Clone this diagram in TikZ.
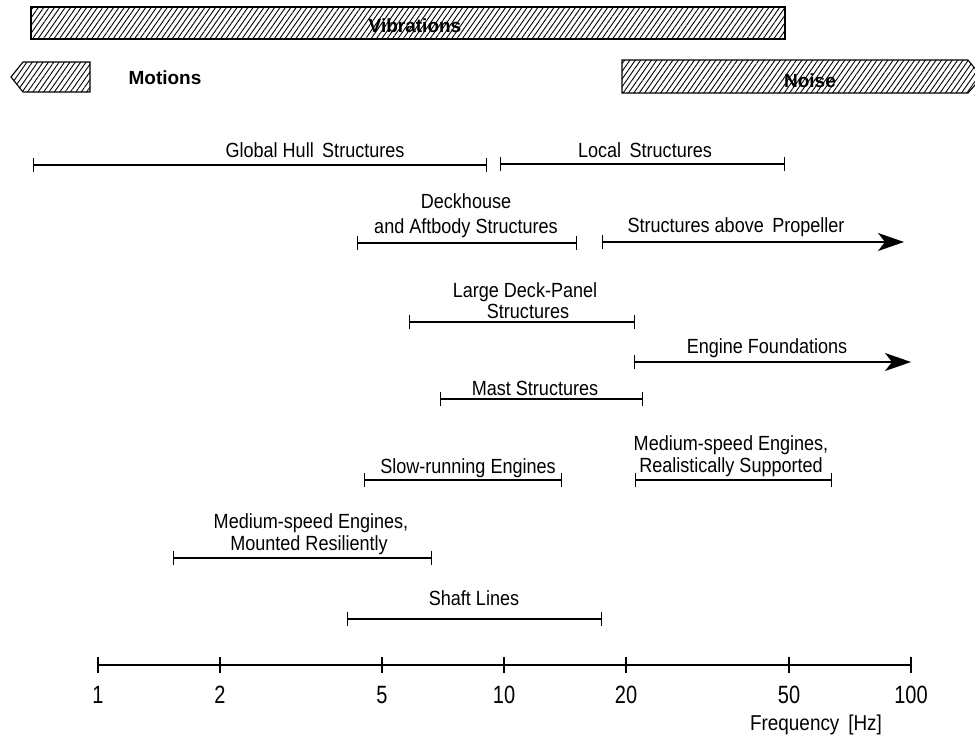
\documentclass[tikz,border=0pt]{standalone}
\usepackage{fontspec}
\setmainfont{Liberation Sans}
\newfontfamily\narrowfont{Liberation Sans}[FakeStretch=0.88]
\newfontfamily\numfont{Liberation Sans}[FakeStretch=0.80]
\usetikzlibrary{arrows.meta,patterns.meta}
\begin{document}
\begin{tikzpicture}[x=1pt,y=-1pt,
  lbl/.style={font=\narrowfont\fontsize{20.5}{24}\selectfont, anchor=base, inner sep=0pt},
  boldlbl/.style={font=\fontsize{19}{22}\selectfont\bfseries, anchor=base, inner sep=0pt},
  numlbl/.style={font=\numfont\fontsize{25}{28}\selectfont, anchor=base, inner sep=0pt},
  spanbar/.style={line width=1.3pt, {Bar[width=14pt]}-{Bar[width=14pt]}},
  spanopen/.style={line width=1.3pt, {Bar[width=14pt]}-{Stealth[length=26pt,width=18pt,inset=7pt]}},
  hatchband/.style={draw=black, line width=1.1pt, pattern={Lines[angle=55,distance=4.4pt,line width=0.9pt]}},
  axline/.style={line width=1.4pt},
]
\useasboundingbox (0,0) rectangle (975,745);
\begin{scope}
\clip (0,0) rectangle (975,745);
% hatched bands
\draw[hatchband] (31,7) rectangle (785,39);
\node[boldlbl] (vib) at (415,32) {Vibrations};
\draw[hatchband] (90,62) -- (23,62) -- (11,77) -- (23,92) -- (90,92) -- cycle;
\node[boldlbl] (mot) at (165,84) {Motions};
\draw[hatchband] (622,60) -- (968,60) -- (982,77) -- (968,93) -- (622,93) -- cycle;
\node[boldlbl] (noise) at (810,87) {Noise};
\end{scope}

% Global hull
\coordinate (gh1) at (33,165); \coordinate (gh2) at (487,165);
\draw[spanbar] (gh1) -- (gh2);
\node[lbl] (ghl) at (315,157) {Global Hull\, Structures};
% Local
\coordinate (ls1) at (500,164); \coordinate (ls2) at (785,164);
\draw[spanbar] (ls1) -- (ls2);
\node[lbl] (lsl) at (645,157) {Local\, Structures};
% Deckhouse
\coordinate (dh1) at (357,243); \coordinate (dh2) at (577,243);
\draw[spanbar] (dh1) -- (dh2);
\node[lbl] (dhl1) at (466,208) {Deckhouse};
\node[lbl] (dhl2) at (466,233) {and Aftbody Structures};
% Structures above propeller
\coordinate (sp1) at (602,242); \coordinate (sp2) at (904,242);
\draw[spanopen] (sp1) -- (sp2);
\node[lbl] (spl) at (736,232) {Structures above\, Propeller};
% Large deck panel
\coordinate (ld1) at (409,322); \coordinate (ld2) at (635,322);
\draw[spanbar] (ld1) -- (ld2);
\node[lbl] (ldl1) at (525,297) {Large Deck-Panel};
\node[lbl] (ldl2) at (528,318) {Structures};
% Engine foundations
\coordinate (ef1) at (634,362); \coordinate (ef2) at (911,362);
\draw[spanopen] (ef1) -- (ef2);
\node[lbl] (efl) at (767,353) {Engine Foundations};
% Mast
\coordinate (ms1) at (440,399); \coordinate (ms2) at (643,399);
\draw[spanbar] (ms1) -- (ms2);
\node[lbl] (msl) at (535,395) {Mast Structures};
% Slow-running engines
\coordinate (sr1) at (364,480); \coordinate (sr2) at (562,480);
\draw[spanbar] (sr1) -- (sr2);
\node[lbl] (srl) at (468,473) {Slow-running Engines};
% Medium-speed realistic
\coordinate (mr1) at (635,480); \coordinate (mr2) at (832,480);
\draw[spanbar] (mr1) -- (mr2);
\node[lbl] (mrl1) at (731,450) {Medium-speed Engines,};
\node[lbl] (mrl2) at (731,472) {Realistically Supported};
% Medium-speed resilient
\coordinate (mm1) at (173,558); \coordinate (mm2) at (432,558);
\draw[spanbar] (mm1) -- (mm2);
\node[lbl] (mml1) at (311,528) {Medium-speed Engines,};
\node[lbl] (mml2) at (309,550) {Mounted Resiliently};
% Shaft lines
\coordinate (sl1) at (347,619); \coordinate (sl2) at (602,619);
\draw[spanbar] (sl1) -- (sl2);
\node[lbl] (sll) at (474,605) {Shaft Lines};

% Axis
\coordinate (a1) at (98,665); \coordinate (a100) at (911,665);
\draw[axline] (a1) -- (a100);
\foreach \xx/\tt/\nm in {98/1/t1, 220/2/t2, 382/5/t5, 504/10/t10, 626/20/t20, 789/50/t50, 911/100/t100}{
  \draw[axline] (\xx,657) -- (\xx,673);
  \node[numlbl] (\nm) at (\xx,703) {\tt};
}
\node[font=\narrowfont\fontsize{21.5}{25}\selectfont, anchor=base, inner sep=0pt] (freq) at (816,730) {Frequency\, [Hz]};
\end{tikzpicture}
\end{document}
